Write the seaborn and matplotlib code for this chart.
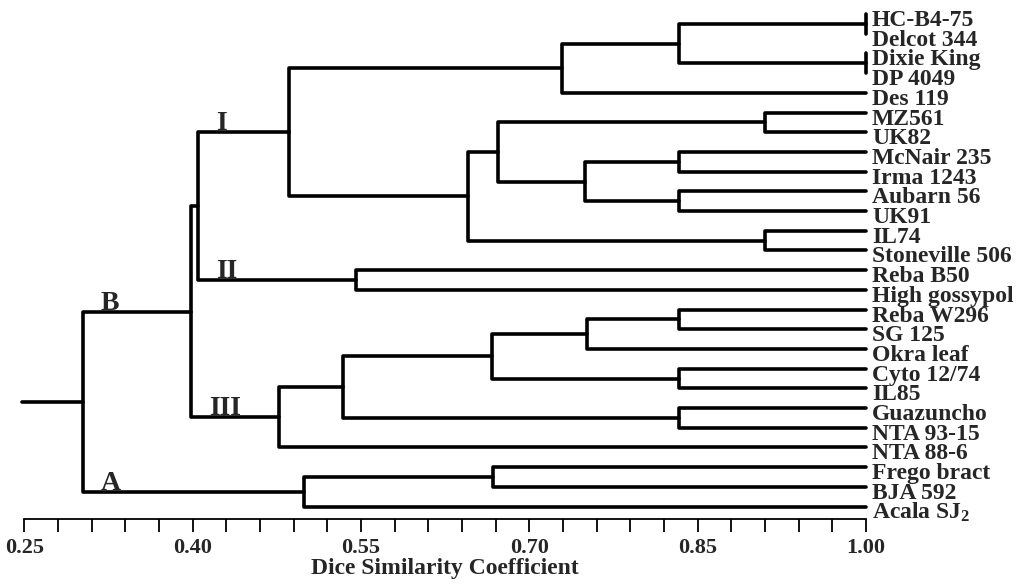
import matplotlib
matplotlib.use("Agg")
import matplotlib.pyplot as plt
import matplotlib.transforms as mtransforms
import numpy as np
import pandas as pd
import seaborn as sns


# leaf order, top to bottom
leaves = [
    "HC-B4-75", "Delcot 344", "Dixie King", "DP 4049", "Des 119",
    "MZ561", "UK82", "McNair 235", "Irma 1243", "Aubarn 56", "UK91",
    "IL74", "Stoneville 506", "Reba B50", "High gossypol",
    "Reba W296", "SG 125", "Okra leaf", "Cyto 12/74", "IL85",
    "Guazuncho", "NTA 93-15", "NTA 88-6",
    "Frego bract", "BJA 592", "Acala SJ2",
]

# merges (linkage style); "cN" refers to the N-th merge below
merge_left = [
    "HC-B4-75", "Dixie King", "c1", "c3", "MZ561", "McNair 235", "Aubarn 56",
    "c6", "c5", "IL74", "c9", "c4", "Reba B50", "c12", "Reba W296", "c15",
    "Cyto 12/74", "c16", "Guazuncho", "c18", "c20", "c14", "Frego bract",
    "c23", "c22",
]
merge_right = [
    "Delcot 344", "DP 4049", "c2", "Des 119", "UK82", "Irma 1243", "UK91",
    "c7", "c8", "Stoneville 506", "c10", "c11", "High gossypol", "c13",
    "SG 125", "Okra leaf", "IL85", "c17", "NTA 93-15", "c19", "NTA 88-6",
    "c21", "BJA 592", "Acala SJ2", "c24",
]
merge_sim = [
    1.00, 1.00, 0.833, 0.729, 0.910, 0.833, 0.833,
    0.750, 0.672, 0.910, 0.645, 0.486, 0.546, 0.405, 0.833, 0.751,
    0.833, 0.667, 0.833, 0.534, 0.477, 0.399, 0.668,
    0.499, 0.302,
]
cluster_tags = {"c12": "I", "c13": "II", "c21": "III", "c22": "B", "c24": "A"}

tick_values = [0.25, 0.40, 0.55, 0.70, 0.85, 1.00]
root_stem = 0.248


def build_segments():
    pos = {name: (1.0, float(i)) for i, name in enumerate(leaves)}
    parent_x = {}
    rows = []
    for k, (a, b, s) in enumerate(zip(merge_left, merge_right, merge_sim), start=1):
        xa, ya = pos[a]
        xb, yb = pos[b]
        node = f"c{k}"
        pos[node] = (s, (ya + yb) / 2)
        parent_x[a] = s
        parent_x[b] = s
        for j, (x, y) in enumerate([(xa, ya), (s, ya), (s, yb), (xb, yb)]):
            rows.append({"seg": node, "order": j, "x": x, "y": y})
    root = f"c{len(merge_sim)}"
    rx, ry = pos[root]
    rows.append({"seg": "stem", "order": 0, "x": root_stem, "y": ry})
    rows.append({"seg": "stem", "order": 1, "x": rx, "y": ry})
    return pd.DataFrame(rows), pos, parent_x


sns.set_style("white")
plt.rcParams["font.family"] = ["Liberation Serif", "DejaVu Serif"]
plt.rcParams["font.weight"] = "bold"
plt.rcParams["mathtext.fontset"] = "custom"
plt.rcParams["mathtext.rm"] = "Liberation Serif:bold"
plt.rcParams["mathtext.it"] = "Liberation Serif:bold"

segs, pos, parent_x = build_segments()

fig = plt.figure(figsize=(10.2, 5.84), dpi=100)
ax = fig.add_axes([0.0183, 0.1113, 0.8362, 0.8818])

sns.lineplot(data=segs, x="x", y="y", units="seg", estimator=None, sort=False,
             color="black", lw=2.6, legend=False, ax=ax, clip_on=False)

ax.set_xlim(0.245, 1.005)
ax.set_ylim(len(leaves) - 0.37, -0.51)

# leaf names to the right of x = 1.00
leaf_tr = mtransforms.offset_copy(ax.transData, fig=fig, x=6, y=-12, units="dots")
for i, name in enumerate(leaves):
    txt = "Acala SJ$_2$" if name == "Acala SJ2" else name
    ax.text(1.0, i, txt, transform=leaf_tr, ha="left", va="baseline",
            fontsize=17, fontweight="bold")

# cluster tags sitting on their branches
tag_tr = mtransforms.offset_copy(ax.transData, fig=fig, x=0, y=2, units="dots")
for node, tag in cluster_tags.items():
    x0 = parent_x[node] + 0.016
    ax.text(x0, pos[node][1], tag, transform=tag_tr, ha="left", va="baseline",
            fontsize=20, fontweight="bold")

for side in ["top", "left", "right"]:
    ax.spines[side].set_visible(False)
ax.spines["bottom"].set_bounds(0.25, 1.00)
ax.spines["bottom"].set_linewidth(1.3)
ax.spines["bottom"].set_color("black")

ax.set_xticks(tick_values)
ax.set_xticklabels([f"{v:.2f}" for v in tick_values])
ax.set_xticks(np.arange(0.25, 1.0001, 0.03), minor=True)
ax.tick_params(axis="x", which="both", direction="out", length=9, width=1.3,
               color="black", bottom=True)
ax.tick_params(axis="x", which="major", labelsize=16, pad=5)
ax.set_yticks([])
ax.set_xlabel("Dice Similarity Coefficient", fontsize=17, fontweight="bold", labelpad=0)
ax.set_ylabel("")

fig.savefig("out.png", dpi=100)
plt.close(fig)
